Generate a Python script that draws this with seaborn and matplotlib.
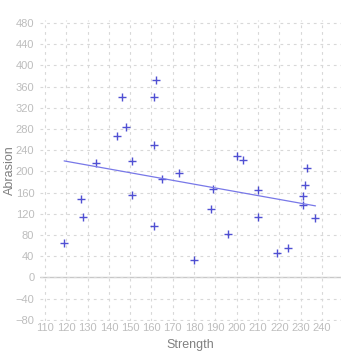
import matplotlib
matplotlib.use("Agg")
import matplotlib.pyplot as plt
import seaborn as sns
import pandas as pd

# Rubber data: tensile strength vs abrasion loss
strength = [162, 233, 232, 231, 231, 237, 224, 219, 203, 189,
            210, 210, 196, 180, 200, 173, 188, 161, 119, 161,
            151, 165, 151, 128, 161, 146, 148, 144, 134, 127]
abrasion = [372, 206, 175, 154, 136, 112, 55, 45, 221, 166,
            164, 113, 82, 32, 228, 196, 128, 97, 64, 249,
            219, 186, 155, 114, 341, 340, 283, 267, 215, 148]
x_ticks = list(range(110, 250, 10))
y_ticks = list(range(-80, 520, 40))

df = pd.DataFrame({"Strength": strength, "Abrasion": abrasion})

sns.set_style("white")
plt.rcParams["font.family"] = ["Liberation Sans", "DejaVu Sans"]
fig = plt.figure(figsize=(3.59, 3.59), dpi=100)
ax = fig.add_axes([0.111, 0.105, 0.839, 0.84])

sns.regplot(data=df, x="Strength", y="Abrasion", ax=ax, ci=None, marker="+",
            scatter_kws={"color": "#2424c8", "s": 36, "linewidths": 1.0},
            line_kws={"color": "#7878e8", "linewidth": 0.9})

ax.set_xlim(107.6, 249)
ax.set_ylim(-83, 486)
ax.set_xticks(x_ticks)
ax.set_yticks(y_ticks)
ax.grid(True, color="#d8d8d8", linestyle=(0, (2.5, 3.5)), linewidth=0.8)
ax.set_axisbelow(True)
ax.axhline(0, color="#c8c8c8", linewidth=1.0, zorder=0.5)
for s in ax.spines.values():
    s.set_visible(False)
ax.tick_params(axis="both", length=0, labelsize=8, colors="#bdbdbd")
ax.tick_params(axis="x", pad=1)
ax.tick_params(axis="y", pad=4)
ax.set_xlabel("Strength", fontsize=9, color="#808080")
ax.set_ylabel("Abrasion", fontsize=9, color="#808080")
ax.xaxis.set_label_coords(0.5, -0.06)
ax.yaxis.set_label_coords(-0.078, 0.5)

fig.savefig("out.png", dpi=100)
